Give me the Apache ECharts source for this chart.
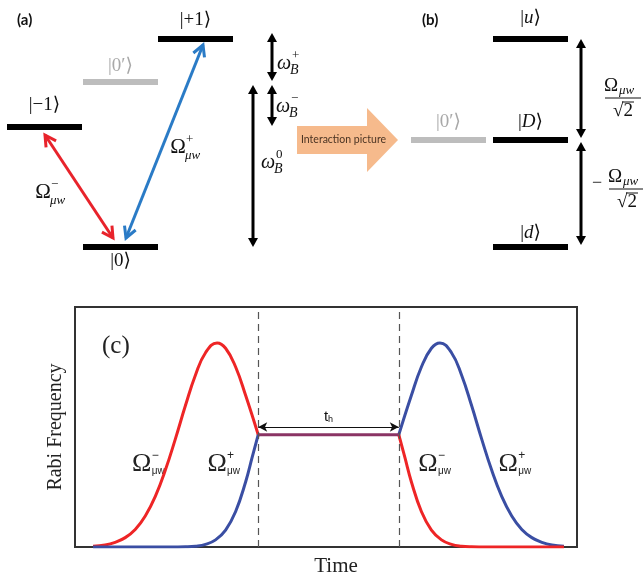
<!DOCTYPE html>
<html><head><meta charset="utf-8">
<script src="https://cdn.jsdelivr.net/npm/echarts@6/dist/echarts.min.js"></script>
<style>html,body{margin:0;padding:0;background:#fff}#c{width:643px;height:581px}</style>
</head><body><div id="c"></div>
<script>
// ---------- Panel (c): pulse amplitudes (time in % of window, amplitude relative to peak) ----------
const redLeftT   = [3.6, 6, 8, 10, 12, 14, 16, 18, 20, 22, 24, 26, 28.3, 30, 32, 34, 36.5];
const redLeftV   = [0.004, 0.010, 0.023, 0.046, 0.086, 0.152, 0.248, 0.377, 0.53, 0.693, 0.843, 0.952, 1.0, 0.974, 0.882, 0.742, 0.55];
const blueLeftT  = [3.6, 10, 16, 20, 22, 24, 26, 28, 30, 32, 34, 35.3, 36.5];
const blueLeftV  = [0, 0, 0, 0.0003, 0.001, 0.004, 0.013, 0.035, 0.083, 0.174, 0.32, 0.44, 0.55];
const plateauT   = [36.5, 64.5];
const plateauV   = [0.55, 0.55];
const redRightT  = [64.5, 65.7, 67, 69, 71, 73, 75, 77, 79, 81, 85, 91, 97.4];
const redRightV  = [0.55, 0.44, 0.32, 0.174, 0.083, 0.035, 0.013, 0.004, 0.001, 0.0003, 0, 0, 0];
const blueRightT = [64.5, 67, 69, 71, 72.7, 75, 77, 79, 81, 83, 85, 87, 89, 91, 93, 95, 97.4];
const blueRightV = [0.55, 0.742, 0.882, 0.974, 1.0, 0.952, 0.843, 0.693, 0.53, 0.377, 0.248, 0.152, 0.086, 0.046, 0.023, 0.010, 0.004];
const holdBounds = [36.5, 64.5];
const holdArrowV = 0.588;
const pulseLabelT = [13.3, 28.3, 70.3, 86.3];
const pulseLabelV = [0.407, 0.407, 0.407, 0.407];
const pulseLabelSign = ['\u2212', '+', '\u2212', '+'];

// ---------- Panels (a),(b): level scheme (diagram units) ----------
const levelKets   = ['+1', '0\u2032', '\u22121', '0', 'u', '0\u2032', 'D', 'd'];
const levelX0     = [158, 83, 7, 83, 493, 411, 493, 493];
const levelX1     = [233, 158, 82, 158, 568, 486, 568, 568];
const levelE      = [39, 82, 127, 247, 39, 140, 140, 247];
const levelLabelE = [20, 66, 105, 261, 18, 122, 122, 233];
const levelGray   = [0, 1, 0, 0, 0, 1, 0, 0];
const levelItalic = [0, 0, 0, 0, 1, 0, 1, 1];

const couplingFrom = [[45, 135], [203, 45]];
const couplingTo   = [[113, 238], [126, 238]];
const couplingSign = ['\u2212', '+'];
const couplingLabelPos = [[43, 192], [178, 147]];

const splitFrom = [[272, 33], [272, 85], [253, 85], [581, 39], [581, 142]];
const splitTo   = [[272, 81], [272, 126], [253, 247], [581, 138], [581, 245]];
const splitLabelPos = [[284, 64], [283, 107], [268, 163]];
const splitLabelSup = ['+', '\u2212', '0'];

const fracPos  = [[623, 98], [627, 189]];
const fracNeg  = [0, 1];
const interactionArrow = [297, 367, 398, 140]; // body start, head start, tip, centre line
const interactionText = 'Interaction picture';

const SERIF = "'Liberation Serif','DejaVu Serif','DejaVu Sans',serif";
const SANS = "'Liberation Sans','DejaVu Sans',sans-serif";
const zip = (a, b) => a.map((x, i) => [x, b[i]]);

function T(x, y, text, o) {
  return {type: 'text', x: x, y: y, style: Object.assign({text: text, fill: '#111', fontFamily: SERIF, fontSize: 18, align: 'center', verticalAlign: 'middle'}, o || {})};
}

function arrowEls(p, q, color, w, open) {
  const dx = q[0] - p[0], dy = q[1] - p[1], L = Math.hypot(dx, dy);
  const ux = dx / L, uy = dy / L, nx = -uy, ny = ux;
  const els = [];
  if (open) {
    const hl = 11, hw = 6;
    els.push({type: 'line', shape: {x1: p[0], y1: p[1], x2: q[0], y2: q[1]}, style: {stroke: color, lineWidth: w}});
    [[q, 1], [p, -1]].forEach(([t, s]) => {
      const bx = t[0] - s * ux * hl, by = t[1] - s * uy * hl;
      els.push({type: 'polyline', shape: {points: [[bx + nx * hw, by + ny * hw], [t[0], t[1]], [bx - nx * hw, by - ny * hw]]},
        style: {stroke: color, lineWidth: w, fill: null}});
    });
  } else {
    const hl = 9, hw = 5;
    els.push({type: 'line', shape: {x1: p[0] + ux * hl * 0.8, y1: p[1] + uy * hl * 0.8, x2: q[0] - ux * hl * 0.8, y2: q[1] - uy * hl * 0.8}, style: {stroke: color, lineWidth: w}});
    [[q, 1], [p, -1]].forEach(([t, s]) => {
      const bx = t[0] - s * ux * hl, by = t[1] - s * uy * hl;
      els.push({type: 'polygon', shape: {points: [[bx + nx * hw, by + ny * hw], [t[0], t[1]], [bx - nx * hw, by - ny * hw]]}, style: {fill: color}});
    });
  }
  return els;
}

const chart = echarts.init(document.getElementById('c'), null, {renderer: 'canvas'});

const lineBase = {type: 'line', xAxisIndex: 0, yAxisIndex: 0, symbol: 'none', showSymbol: false, smooth: 0.45, silent: true, animation: false};
const RED = '#ee2526', BLUE = '#3a4ea3';

chart.setOption({
  animation: false,
  backgroundColor: '#fff',
  title: [
    {text: '(a)', left: 12, top: 8, textStyle: {fontFamily: "Lato,'Open Sans',sans-serif", fontWeight: 'bold', fontSize: 15, color: '#111'}},
    {text: '(b)', left: 417, top: 8, textStyle: {fontFamily: "Lato,'Open Sans',sans-serif", fontWeight: 'bold', fontSize: 15, color: '#111'}},
    {text: '(c)', left: 97, top: 329, textStyle: {fontFamily: SERIF, fontWeight: 'normal', fontSize: 25, color: '#222'}}
  ],
  grid: [
    {left: 75, top: 307, width: 502, height: 240, show: true, borderColor: '#333', borderWidth: 2, backgroundColor: 'transparent'},
    {left: 0, top: 0, width: 643, height: 290, show: false}
  ],
  xAxis: [
    {gridIndex: 0, type: 'value', min: 0, max: 100, axisLine: {show: false}, axisTick: {show: false}, axisLabel: {show: false}, splitLine: {show: false},
      name: 'Time', nameLocation: 'middle', nameGap: 9,
      nameTextStyle: {fontFamily: SERIF, fontSize: 21, color: '#222', padding: [0, 0, 0, 20]}},
    {gridIndex: 1, type: 'value', min: 0, max: 643, show: false}
  ],
  yAxis: [
    {gridIndex: 0, type: 'value', min: 0, max: 1.176, axisLine: {show: false}, axisTick: {show: false}, axisLabel: {show: false}, splitLine: {show: false},
      name: 'Rabi Frequency', nameLocation: 'middle', nameGap: 9,
      nameTextStyle: {fontFamily: SERIF, fontSize: 20, color: '#222'}},
    {gridIndex: 1, type: 'value', min: 0, max: 290, inverse: true, show: false}
  ],
  series: [
    Object.assign({}, lineBase, {name: 'redL', data: zip(redLeftT, redLeftV), lineStyle: {color: RED, width: 3}}),
    Object.assign({}, lineBase, {name: 'blueL', data: zip(blueLeftT, blueLeftV), lineStyle: {color: BLUE, width: 3}}),
    Object.assign({}, lineBase, {name: 'blueR', data: zip(blueRightT, blueRightV), lineStyle: {color: BLUE, width: 3}}),
    Object.assign({}, lineBase, {name: 'redR', data: zip(redRightT, redRightV), lineStyle: {color: RED, width: 3}}),
    Object.assign({}, lineBase, {name: 'hold', smooth: false, data: zip(plateauT, plateauV), lineStyle: {color: '#8a3464', width: 3},
      markLine: {silent: true, symbol: ['none', 'none'], animation: false, label: {show: false},
        lineStyle: {type: [7, 5], color: '#555', width: 1.2},
        data: holdBounds.map(t => ({xAxis: t}))}}),
    Object.assign({}, lineBase, {name: 'holdArrow', data: [], markLine: {silent: true, animation: false, symbol: ['arrow', 'arrow'], symbolSize: [7, 9],
      lineStyle: {type: 'solid', color: '#111', width: 1},
      label: {show: true, position: 'middle', distance: 3, formatter: '{t|t}{h|h}',
        rich: {t: {fontFamily: SANS, fontSize: 15, color: '#111'}, h: {fontFamily: SANS, fontSize: 9, color: '#111', verticalAlign: 'bottom', padding: [6, 0, 0, 0]}}},
      data: [[{coord: [holdBounds[0], holdArrowV]}, {coord: [holdBounds[1], holdArrowV]}]]}}),
    // pulse labels in (c)
    {type: 'custom', xAxisIndex: 0, yAxisIndex: 0, silent: true, data: zip(pulseLabelT, pulseLabelV),
      renderItem: (params, api) => {
        const p = api.coord([api.value(0), api.value(1)]);
        const s = pulseLabelSign[params.dataIndex];
        return {type: 'group', children: [
          T(p[0], p[1], '\u03A9', {fontSize: 26, fill: '#222'}),
          T(p[0] + 10, p[1] - 8, s, {fontFamily: SANS, fontSize: 12, align: 'left', fill: '#222'}),
          T(p[0] + 10, p[1] + 7, '\u03BCw', {fontFamily: SANS, fontSize: 10, align: 'left', fill: '#222'})
        ]};
      }},
    // energy levels
    {type: 'custom', xAxisIndex: 1, yAxisIndex: 1, silent: true, data: zip(levelX0, levelE),
      renderItem: (params, api) => {
        const i = params.dataIndex;
        const a = api.coord([levelX0[i], levelE[i]]);
        const b = api.coord([levelX1[i], levelE[i]]);
        const l = api.coord([(levelX0[i] + levelX1[i]) / 2, levelLabelE[i]]);
        const gray = levelGray[i];
        const k = levelKets[i];
        const text = levelItalic[i] ? '{n||}{i|' + k + '}{n|\u27E9}' : '{n||' + k + '\u27E9}';
        return {type: 'group', children: [
          {type: 'rect', shape: {x: a[0], y: a[1] - 3, width: b[0] - a[0], height: 6}, style: {fill: gray ? '#bdbdbd' : '#000'}},
          {type: 'text', x: l[0], y: l[1], style: {text: text, align: 'center', verticalAlign: 'middle',
            rich: {n: {fontFamily: SERIF, fontSize: 19, fill: gray ? '#a8a8a8' : '#111'}, i: {fontFamily: SERIF, fontSize: 19, fontStyle: 'italic', fill: '#111'}}}}
        ]};
      }},
    // coupling arrows (a)
    {type: 'custom', xAxisIndex: 1, yAxisIndex: 1, silent: true, data: couplingFrom,
      renderItem: (params, api) => {
        const i = params.dataIndex;
        const p = api.coord(couplingFrom[i]), q = api.coord(couplingTo[i]);
        const c = api.coord(couplingLabelPos[i]);
        const col = i === 0 ? '#e8232b' : '#2a7bc6';
        return {type: 'group', children: arrowEls(p, q, col, 3, true).concat([
          T(c[0], c[1], '\u03A9', {fontSize: 21}),
          T(c[0] + 8, c[1] - 7, couplingSign[i], {fontSize: 13, align: 'left'}),
          T(c[0] + 7, c[1] + 9, '\u03BCw', {fontSize: 13, fontStyle: 'italic', align: 'left'})
        ])};
      }},
    // splitting arrows (a),(b)
    {type: 'custom', xAxisIndex: 1, yAxisIndex: 1, silent: true, data: splitFrom,
      renderItem: (params, api) => {
        const i = params.dataIndex;
        const p = api.coord(splitFrom[i]), q = api.coord(splitTo[i]);
        let els = arrowEls(p, q, '#000', 3, false);
        if (i < splitLabelPos.length) {
          const c = api.coord(splitLabelPos[i]);
          els = els.concat([
            T(c[0], c[1], '\u03C9', {fontSize: 20, fontStyle: 'italic'}),
            T(c[0] + 8, c[1] - 8, splitLabelSup[i], {fontSize: 13, align: 'left'}),
            T(c[0] + 6, c[1] + 6, 'B', {fontSize: 14, fontStyle: 'italic', align: 'left'})
          ]);
        }
        return {type: 'group', children: els};
      }},
    // fractions Ω/√2 (b)
    {type: 'custom', xAxisIndex: 1, yAxisIndex: 1, silent: true, data: fracPos,
      renderItem: (params, api) => {
        const i = params.dataIndex;
        const c = api.coord(fracPos[i]);
        const els = [
          T(c[0] - 12, c[1] - 12, '\u03A9', {fontSize: 19}),
          T(c[0] - 4, c[1] - 7, '\u03BCw', {fontSize: 13, fontStyle: 'italic', align: 'left'}),
          {type: 'line', shape: {x1: c[0] - 18, y1: c[1], x2: c[0] + 18, y2: c[1]}, style: {stroke: '#111', lineWidth: 1}},
          T(c[0], c[1] + 13, '\u221A2', {fontSize: 19}),
          {type: 'line', shape: {x1: c[0] - 1, y1: c[1] + 4, x2: c[0] + 11, y2: c[1] + 4}, style: {stroke: '#111', lineWidth: 1}}
        ];
        if (fracNeg[i]) els.push(T(c[0] - 30, c[1] - 6, '\u2212', {fontSize: 18}));
        return {type: 'group', children: els};
      }},
    // interaction-picture arrow
    {type: 'custom', xAxisIndex: 1, yAxisIndex: 1, silent: true, data: [[interactionArrow[0], interactionArrow[3]]],
      renderItem: (params, api) => {
        const a = api.coord([interactionArrow[0], interactionArrow[3]]);
        const h = api.coord([interactionArrow[1], interactionArrow[3]]);
        const t = api.coord([interactionArrow[2], interactionArrow[3]]);
        const y = a[1], bh = 14, hh = 32;
        return {type: 'group', children: [
          {type: 'polygon', shape: {points: [[a[0], y - bh], [h[0], y - bh], [h[0], y - hh], [t[0], y], [h[0], y + hh], [h[0], y + bh], [a[0], y + bh]]}, style: {fill: '#f6ba8c'}},
          T((a[0] + t[0]) / 2 - 4, y, interactionText, {fontFamily: "Lato,'Open Sans',sans-serif", fontSize: 10.5, fill: '#4a3322'})
        ]};
      }}
  ]
});
</script></body></html>
